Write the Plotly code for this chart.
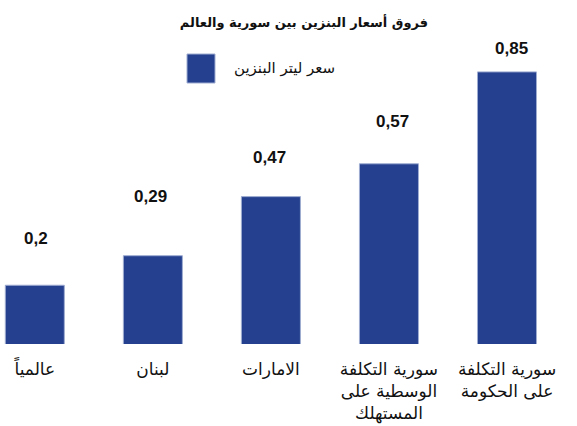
import plotly.graph_objects as go

# Data
categories = ["عالمياً", "لبنان", "الامارات",
              "سورية التكلفة<br>الوسطية على<br>المستهلك",
              "سورية التكلفة<br>على الحكومة"]
values = [0.2, 0.29, 0.47, 0.57, 0.85]
value_labels = ["0,2", "0,29", "0,47", "0,57", "0,85"]
series_name = "سعر ليتر البنزين"
title_text = "فروق أسعار البنزين بين سورية والعالم"

# Styles / label offsets (pixels)
label_yshift = [47, 59, 39, 42, 23]
label_xshift = [1, -2, -1, 4, 4]
BAR = "#25408F"
EDGE = "#9fadd1"
AR_FONT = "DejaVu Sans"

idx = list(range(len(categories)))

fig = go.Figure()
fig.add_trace(go.Bar(
    x=idx, y=values, width=0.5, name=series_name,
    marker=dict(color=BAR, line=dict(color=EDGE, width=1)),
    showlegend=False, hoverinfo="skip",
))

for i, (v, t) in enumerate(zip(values, value_labels)):
    fig.add_annotation(
        x=i, y=v, text=t, showarrow=False, xref="x", yref="y",
        yanchor="middle", xanchor="center",
        yshift=label_yshift[i], xshift=label_xshift[i],
        font=dict(family="Liberation Sans Narrow, Liberation Sans, Arial", size=17,
                  color="#111111", weight="bold"),
    )

# legend (manual, large swatch)
fig.add_shape(type="rect", xref="paper", yref="paper",
              x0=187 / 577, x1=215 / 577, y0=(344 - 83) / 344, y1=(344 - 54) / 344,
              fillcolor=BAR, line=dict(color=EDGE, width=1))
fig.add_annotation(xref="paper", yref="paper", x=337 / 577, y=(344 - 68) / 344,
                   xanchor="right", yanchor="middle", showarrow=False,
                   text=series_name, font=dict(family=AR_FONT, size=15, color="#111111"))

fig.update_layout(
    width=577, height=426,
    margin=dict(l=0, r=0, t=0, b=82),
    paper_bgcolor="white", plot_bgcolor="white",
    title=dict(text=title_text, x=304 / 577, xanchor="center",
               y=1 - 22 / 426, yanchor="middle", yref="container",
               font=dict(family=AR_FONT, size=13, color="#111111", weight="bold")),
    xaxis=dict(range=[-0.295, 4.593], tickmode="array", tickvals=idx,
               ticktext=categories, showgrid=False, zeroline=False,
               showline=False, ticks="", ticklabelstandoff=13,
               tickfont=dict(family=AR_FONT, size=17, color="#111111")),
    yaxis=dict(range=[0.021, 1.069], visible=False, showgrid=False, zeroline=False),
)

fig.write_html("out.html", config={"displayModeBar": False},
               post_script="document.body.style.margin='0';document.body.style.padding='0';")
